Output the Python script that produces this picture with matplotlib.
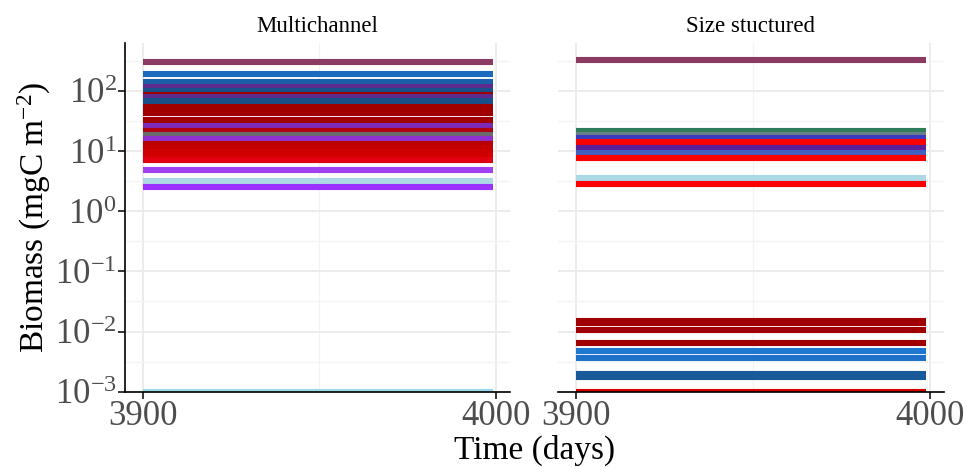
import numpy as np
import matplotlib
matplotlib.use("Agg")
import matplotlib.pyplot as plt
from matplotlib.ticker import FixedLocator, NullFormatter

plt.rcParams['font.family'] = ['Liberation Serif', 'DejaVu Serif']
plt.rcParams['mathtext.fontset'] = 'custom'
plt.rcParams['mathtext.rm'] = 'Liberation Serif'
plt.rcParams['mathtext.it'] = 'Liberation Serif:italic'
plt.rcParams['mathtext.bf'] = 'Liberation Serif:bold'

# ---------------- data ----------------
time = [3900, 3999]

panel_titles = ["Multichannel", "Size stuctured"]

mc_values = [300, 194, 142, 116, 97.7, 85, 80, 68.7, 54.5, 42.5, 32.4, 26.3,
             21.3, 18.5, 16.0, 13.1, 11.2, 9.6, 8.3, 7.1, 4.8, 3.13, 2.54, 0.00099]
mc_colors = ['#8B3A62', '#1A6BBF', '#1A5FA8', '#5E2A8C', '#17508A', '#A00000',
             '#5E2A8C', '#17508A', '#A00000', '#A00000', '#A00000', '#7B2BB8',
             '#B00010', '#6B6B6B', '#9030D0', '#B80000', '#C40000', '#CC0000',
             '#D00000', '#E00010', '#A040F0', '#ADD8E6', '#9B30FF', '#9AD8E8']

ss_values = [329, 21.3, 18.3, 16.3, 14.0, 11.2, 10.2, 9.3, 7.6, 3.6, 2.83,
             0.0152, 0.0138, 0.0107, 0.0064, 0.00477, 0.00363, 0.00197, 0.00176, 0.00097]
ss_colors = ['#8B3A62', '#2E7D5A', '#6A8088', '#3A3AC0', '#FF0000', '#5B1F9A',
             '#5B1F9A', '#4060C0', '#FF0000', '#ADD8E6', '#FF0000',
             '#A00000', '#A00000', '#A00000', '#A00000', '#1E78D0', '#1E70C8',
             '#1A5A9A', '#1A5A9A', '#D00000']

ytick_vals = [1e-3, 1e-2, 1e-1, 1e0, 1e1, 1e2]
ytick_labels = [r'$10^{-3}$', r'$10^{-2}$', r'$10^{-1}$', r'$10^{0}$', r'$10^{1}$', r'$10^{2}$']
xtick_vals = [3900, 4000]
xtick_labels = ['3900', '4000']

# ---------------- figure ----------------
W, H = 964, 467
fig = plt.figure(figsize=(W / 100, H / 100), dpi=100)

y_bot_px, y_top_px = 391.7, 43.3
ax1 = fig.add_axes([125 / W, (H - y_bot_px) / H, (510 - 125) / W, (y_bot_px - y_top_px) / H])
ax2 = fig.add_axes([558 / W, (H - y_bot_px) / H, (944 - 558) / W, (y_bot_px - y_top_px) / H])

ylim = (1e-3, 10 ** 2.79)
xlim = (3895.05, 4003.95)
tick_gray = '#4D4D4D'

for ax, vals, cols, title in [(ax1, mc_values, mc_colors, panel_titles[0]),
                              (ax2, ss_values, ss_colors, panel_titles[1])]:
    for v, c in zip(vals, cols):
        ax.plot(time, [v, v], color=c, lw=4.4, solid_capstyle='butt', zorder=3)
    ax.set_yscale('log')
    ax.set_ylim(*ylim)
    ax.set_xlim(*xlim)
    ax.yaxis.set_major_locator(FixedLocator(ytick_vals))
    ax.yaxis.set_minor_locator(FixedLocator([10 ** (k + 0.5) for k in range(-3, 3)]))
    ax.yaxis.set_minor_formatter(NullFormatter())
    ax.xaxis.set_major_locator(FixedLocator(xtick_vals))
    ax.xaxis.set_minor_locator(FixedLocator([3950]))
    ax.set_xticklabels(xtick_labels)
    ax.grid(True, which='major', color='#EBEBEB', lw=1.3, zorder=0)
    ax.grid(True, which='minor', color='#F3F3F3', lw=0.9, zorder=0)
    ax.set_axisbelow(True)
    for s in ['top', 'right']:
        ax.spines[s].set_visible(False)
    ax.spines['bottom'].set_linewidth(1.2)
    ax.spines['bottom'].set_color('black')
    ax.spines['bottom'].set_zorder(5)
    ax.tick_params(axis='x', which='major', length=5, width=1.1, color='black',
                   labelsize=25, labelcolor=tick_gray, pad=1)
    ax.tick_params(which='minor', length=0)
    ax.set_title(title, fontsize=16.5, pad=8)

ax1.set_yticklabels(ytick_labels)
ax1.spines['left'].set_linewidth(1.2)
ax1.spines['left'].set_color('black')
ax1.tick_params(axis='y', which='major', length=5, width=1.1, color='black',
                labelsize=25, labelcolor=tick_gray, pad=1)

ax2.spines['left'].set_visible(False)
ax2.tick_params(axis='y', which='both', length=0, labelleft=False)

ax1.set_ylabel(r'Biomass (mgC m$^{-2}$)', fontsize=24, labelpad=1)
fig.text(535 / W, 1 - 450 / H, 'Time (days)', fontsize=24, ha='center', va='center')

fig.savefig('out.png', dpi=100)
